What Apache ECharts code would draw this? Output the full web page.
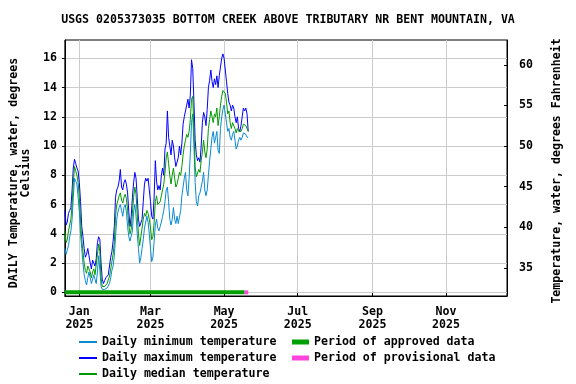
<!DOCTYPE html>
<html><head><meta charset="utf-8">
<script src="https://cdn.jsdelivr.net/npm/echarts@6/dist/echarts.min.js"></script>
<style>html,body{margin:0;padding:0;background:#fff}#c{width:576px;height:384px}</style>
</head><body><div id="c"></div>
<script>
const titleText = 'USGS 0205373035 BOTTOM CREEK ABOVE TRIBUTARY NR BENT MOUNTAIN, VA';
const startDate = '2024-12-20';
const dailyMin = [
 3.0,2.6,2.7,3.2,3.8,4.2,5.0,6.5,7.8,7.6,
 7.4,6.5,5.5,4.0,3.0,2.0,1.2,0.8,0.5,1.0,
 1.4,1.0,0.6,0.7,1.2,0.9,0.6,1.4,2.5,1.5,
 0.4,0.2,0.1,0.2,0.2,0.3,0.3,0.6,1.0,1.5,
 1.8,2.5,3.8,5.0,5.5,5.8,6.0,5.6,5.2,5.8,
 6.0,5.5,4.5,3.8,3.5,3.6,4.2,5.5,6.0,5.2,
 4.0,3.0,2.0,2.4,3.0,3.6,4.4,4.8,5.2,4.8,
 4.0,3.0,2.1,2.4,3.5,4.6,5.0,4.4,4.2,4.5,
 4.8,5.2,5.6,6.2,7.0,7.2,6.2,5.0,4.6,5.0,
 5.8,5.0,4.7,5.2,4.7,4.8,5.6,6.6,7.2,7.8,
 8.2,7.0,6.6,7.8,9.5,11.6,12.2,10.0,7.5,6.2,
 5.9,6.6,6.8,7.2,7.6,8.2,7.0,6.6,7.0,8.0,
 9.0,9.8,10.6,11.0,10.2,10.6,11.0,9.7,9.5,11.2,
 12.0,12.5,12.8,12.2,11.6,11.0,11.2,10.6,10.4,10.8,
 11.0,10.4,9.8,10.0,10.4,10.6,10.4,10.6,10.9,11.0,
 10.8,10.6,10.6];
const dailyMax = [
 5.6,4.6,4.8,5.4,5.6,5.8,7.0,8.5,9.1,8.8,
 8.5,8.3,7.5,6.2,4.5,3.8,3.0,2.4,2.6,3.0,
 2.5,2.0,1.6,2.2,2.0,1.8,2.3,3.4,3.8,3.6,
 2.0,0.9,0.6,0.8,1.0,0.9,1.2,1.8,2.4,2.8,
 3.5,4.5,6.5,7.0,7.2,7.6,8.4,7.2,7.0,7.5,
 7.7,7.4,6.8,5.5,4.5,5.2,6.5,7.5,8.2,7.8,
 6.5,5.0,4.5,4.6,5.0,6.2,7.4,7.8,7.6,7.8,
 7.0,6.2,5.2,5.0,6.5,9.0,7.6,7.0,7.3,7.0,
 8.0,8.5,8.0,9.8,10.2,12.4,10.6,10.0,9.4,10.4,
 10.0,9.2,8.6,8.5,9.2,10.0,9.4,10.2,11.5,12.0,
 12.4,12.8,13.2,12.6,13.5,15.9,15.3,13.0,10.4,9.4,
 9.0,9.2,8.9,10.0,11.6,12.3,12.0,11.4,12.5,14.0,
 14.5,15.2,14.4,14.0,14.6,14.2,14.8,14.0,14.8,15.4,
 16.0,16.3,16.0,15.2,14.4,13.6,13.0,12.8,12.4,12.8,
 12.6,12.0,11.6,12.0,11.2,11.0,11.4,12.0,12.6,12.4,
 12.6,12.2,11.0];
const dailyMedian = [
 4.2,3.4,3.6,4.2,4.6,5.0,6.0,7.5,8.6,8.3,
 8.0,7.5,6.5,5.0,3.6,2.8,2.0,1.5,1.3,1.8,
 1.9,1.4,1.0,1.4,1.6,1.2,1.3,2.6,3.3,2.8,
 1.0,0.4,0.3,0.4,0.5,0.6,0.7,1.1,1.6,2.1,
 2.6,3.4,5.2,6.0,6.3,6.6,6.8,6.3,6.1,6.5,
 6.7,6.4,5.6,4.6,4.0,4.3,5.4,6.5,7.2,6.7,
 5.3,4.0,3.2,3.8,4.4,5.0,5.4,5.2,5.6,5.4,
 5.0,4.4,3.6,3.8,4.8,6.2,6.6,6.0,5.9,6.2,
 6.6,7.0,7.4,8.2,9.2,9.6,8.8,8.0,7.4,8.0,
 8.5,7.8,7.2,7.4,7.8,8.2,8.0,8.6,9.4,10.0,
 10.4,10.8,10.6,11.0,11.8,13.2,13.4,11.0,8.6,7.9,
 8.0,8.4,8.2,9.0,9.6,10.4,9.6,9.2,9.8,11.2,
 11.8,12.4,12.0,11.6,12.2,12.0,12.6,11.4,12.0,12.8,
 13.4,13.8,13.9,13.6,13.0,12.2,12.4,11.6,11.2,11.6,
 11.6,11.2,10.9,11.2,11.0,10.9,11.0,11.2,11.5,11.6,
 11.4,11.2,11.0];
const approvedPeriod = ['2024-12-20', '2025-05-18'];
const provisionalPeriod = ['2025-05-18', '2025-05-21'];
const xRange = ['2024-12-20', '2025-12-21T12:00:00Z'];
const xTickDates = ['2025-01-01','2025-03-01','2025-05-01','2025-07-01','2025-09-01','2025-11-01'];
const xTickLabels = ['Jan\n2025','Mar\n2025','May\n2025','Jul\n2025','Sep\n2025','Nov\n2025'];
const yRangeC = [-0.25, 17.25];
const yTicksC = [0,2,4,6,8,10,12,14,16];
const yTicksF = [35,40,45,50,55,60];

const FONT = '"DejaVu Sans Mono", monospace';
const DAY = 86400000;
const t0 = Date.parse(startDate);
const toPts = arr => arr.map((v, i) => [t0 + i * DAY, v]);
const xTickVals = xTickDates.map(d => Date.parse(d));
const c2f = c => c * 1.8 + 32;
const txt = { fontFamily: FONT, fontSize: 11.6, fontWeight: 'bold', color: '#000' };

const chart = echarts.init(document.getElementById('c'), null, { renderer: 'canvas' });
chart.setOption({
  animation: false,
  backgroundColor: '#fff',
  title: { text: titleText, left: 'center', top: 14, padding: [0, 4, 0, 0], textStyle: Object.assign({}, txt) },
  grid: { left: 64, right: 69, top: 40, bottom: 88, show: true, borderColor: '#000', borderWidth: 1, backgroundColor: 'transparent' },
  xAxis: {
    type: 'value', min: Date.parse(xRange[0]), max: Date.parse(xRange[1]),
    axisLine: { show: true, onZero: false, lineStyle: { color: '#000' } },
    axisTick: { show: true, customValues: xTickVals, inside: true, length: 3, lineStyle: { color: '#000' } },
    axisLabel: Object.assign({ customValues: xTickVals, margin: 9, lineHeight: 13,
      formatter: v => { const i = xTickVals.indexOf(v); return i >= 0 ? xTickLabels[i] : ''; } }, txt),
    splitLine: { show: true, lineStyle: { color: '#cccccc', width: 1 } }
  },
  yAxis: [{
    type: 'value', position: 'left', min: yRangeC[0], max: yRangeC[1],
    name: 'DAILY Temperature, water, degrees\nCelsius', nameLocation: 'middle', nameRotate: 90, nameGap: 32,
    nameTextStyle: Object.assign({ lineHeight: 12, padding: [0, 10, 0, 0] }, txt),
    axisLine: { show: true, onZero: false, lineStyle: { color: '#000' } },
    axisTick: { show: true, customValues: yTicksC, length: 3, lineStyle: { color: '#000' } },
    axisLabel: Object.assign({ customValues: yTicksC, margin: 8 }, txt),
    splitLine: { show: true, lineStyle: { color: '#cccccc', width: 1 } }
  }, {
    type: 'value', position: 'right', min: c2f(yRangeC[0]), max: c2f(yRangeC[1]),
    name: 'Temperature, water, degrees Fahrenheit', nameLocation: 'middle', nameRotate: 90, nameGap: 44,
    nameTextStyle: Object.assign({ padding: [0, 6, 0, 0] }, txt),
    axisLine: { show: true, onZero: false, lineStyle: { color: '#000' } },
    axisTick: { show: true, customValues: yTicksF, inside: true, length: 3, lineStyle: { color: '#000' } },
    axisLabel: Object.assign({ customValues: yTicksF, margin: 12 }, txt),
    splitLine: { show: false }
  }],
  legend: [{
    data: ['Daily minimum temperature', 'Daily maximum temperature', 'Daily median temperature'],
    orient: 'vertical', left: 79, top: 334, padding: 0, itemGap: 0, icon: 'rect', itemWidth: 18, itemHeight: 2,
    textStyle: Object.assign({ lineHeight: 16 }, txt), selectedMode: false
  }, {
    data: ['Period of approved data', 'Period of provisional data'],
    orient: 'vertical', left: 292, top: 334, padding: 0, itemGap: 0, icon: 'rect', itemWidth: 17, itemHeight: 5,
    textStyle: Object.assign({ lineHeight: 16 }, txt), selectedMode: false
  }],
  series: [
    { name: 'Daily minimum temperature', type: 'line', data: toPts(dailyMin), yAxisIndex: 0, symbol: 'none', color: '#0a8ad2', lineStyle: { width: 1 }, z: 2 },
    { name: 'Daily maximum temperature', type: 'line', data: toPts(dailyMax), yAxisIndex: 0, symbol: 'none', color: '#0000ff', lineStyle: { width: 1 }, z: 2 },
    { name: 'Daily median temperature', type: 'line', data: toPts(dailyMedian), yAxisIndex: 0, symbol: 'none', color: '#009900', lineStyle: { width: 1 }, z: 3 },
    { name: 'Period of approved data', type: 'line', data: approvedPeriod.map(d => [Date.parse(d), 0]), yAxisIndex: 0, symbol: 'none', color: '#00a000', lineStyle: { width: 4 }, z: 4 },
    { name: 'Period of provisional data', type: 'line', data: provisionalPeriod.map(d => [Date.parse(d), 0]), yAxisIndex: 0, symbol: 'none', color: '#ff44dd', lineStyle: { width: 4 }, z: 4 }
  ]
});
</script></body></html>
